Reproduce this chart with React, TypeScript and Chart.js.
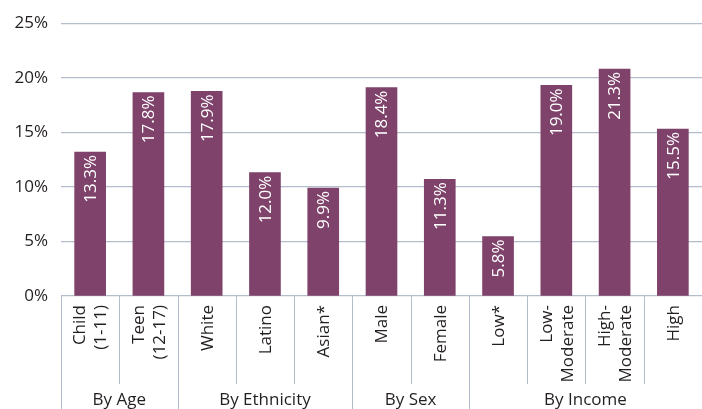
import React, { useEffect, useRef } from "react";
import { Chart, registerables } from "chart.js";

Chart.register(...registerables);

const categories: string[][] = [
  ["Child", "(1-11)"],
  ["Teen", "(12-17)"],
  ["White"],
  ["Latino"],
  ["Asian*"],
  ["Male"],
  ["Female"],
  ["Low*"],
  ["Low-", "Moderate"],
  ["High-", "Moderate"],
  ["High"],
];
const barValues = [13.2, 18.65, 18.75, 11.3, 9.9, 19.1, 10.7, 5.45, 19.3, 20.8, 15.3];
const valueLabels = ["13.3%", "17.8%", "17.9%", "12.0%", "9.9%", "18.4%", "11.3%", "5.8%", "19.0%", "21.3%", "15.5%"];
const groupLabels = ["By Age", "By Ethnicity", "By Sex", "By Income"];
const groupSizes = [2, 3, 2, 4];
const yTicks = [0, 5, 10, 15, 20, 25];

const FONT = "'Open Sans', 'Noto Sans', sans-serif";
const LINE = "#b4bdcc";
const TEXT = "#231f20";

const overlayPlugin = {
  id: "overlay",
  afterDatasetsDraw(chart: any) {
    const ctx = chart.ctx;
    const meta = chart.getDatasetMeta(0);
    const area = chart.chartArea;
    const x = chart.scales.x;
    ctx.save();
    // value labels
    ctx.fillStyle = "#ffffff";
    ctx.font = `17px ${FONT}`;
    ctx.textAlign = "right";
    ctx.textBaseline = "middle";
    meta.data.forEach((bar: any, i: number) => {
      ctx.save();
      ctx.translate(bar.x, bar.y + 3);
      ctx.rotate(-Math.PI / 2);
      ctx.fillText(valueLabels[i], 0, 1);
      ctx.restore();
    });
    // category labels
    ctx.fillStyle = TEXT;
    categories.forEach((lines, i) => {
      const cx = x.getPixelForValue(i);
      const lh = 21;
      const start = cx - ((lines.length - 1) * lh) / 2;
      lines.forEach((ln, j) => {
        ctx.save();
        ctx.translate(start + j * lh, area.bottom + 9);
        ctx.rotate(-Math.PI / 2);
        ctx.fillText(ln, 0, 1);
        ctx.restore();
      });
    });
    // table lines
    ctx.strokeStyle = LINE;
    ctx.lineWidth = 1;
    const boundaries: number[] = [];
    const n = categories.length;
    const step = n > 1 ? x.getPixelForValue(1) - x.getPixelForValue(0) : 0;
    for (let i = 0; i <= n; i++) {
      boundaries.push(x.getPixelForValue(0) - step / 2 + i * step);
    }
    const groupEdges = new Set<number>();
    let acc = 0;
    groupEdges.add(0);
    groupSizes.forEach((s) => {
      acc += s;
      groupEdges.add(acc);
    });
    boundaries.forEach((bx, i) => {
      if (i === n) return;
      const px = Math.round(bx) + 0.5;
      ctx.beginPath();
      ctx.moveTo(px, area.bottom);
      ctx.lineTo(px, groupEdges.has(i) ? chart.height : area.bottom + 88);
      ctx.stroke();
    });
    // group labels
    ctx.textAlign = "center";
    ctx.textBaseline = "alphabetic";
    let gi = 0;
    groupLabels.forEach((g, k) => {
      const left = boundaries[gi];
      const right = Math.min(boundaries[gi + groupSizes[k]], chart.width);
      ctx.fillText(g, (left + right) / 2, 405);
      gi += groupSizes[k];
    });
    ctx.restore();
  },
};

export default function App() {
  const ref = useRef<HTMLCanvasElement | null>(null);
  useEffect(() => {
    if (!ref.current) return;
    const chart = new Chart(ref.current, {
      type: "bar",
      data: {
        labels: categories.map((c) => c.join(" ")),
        datasets: [
          {
            data: barValues,
            backgroundColor: "#7f426b",
            barThickness: 31,
          },
        ],
      },
      options: {
        animation: false,
        responsive: false,
        maintainAspectRatio: false,
        layout: { padding: { top: 18, bottom: 113, left: 0, right: 0 } },
        plugins: { legend: { display: false }, tooltip: { enabled: false } },
        scales: {
          x: { display: false },
          y: {
            min: 0,
            max: 25,
            afterBuildTicks: (s: any) => {
              s.ticks = yTicks.map((v) => ({ value: v }));
            },
            afterFit: (s: any) => {
              s.width = 61;
            },
            border: { display: false },
            grid: { color: LINE, lineWidth: 1.3, drawTicks: false },
            ticks: {
              padding: 13,
              color: TEXT,
              font: { family: FONT, size: 17 },
              callback: (v: any) => `${v}%`,
            },
          },
        },
      },
      plugins: [overlayPlugin],
    });
    return () => chart.destroy();
  }, []);
  return (
    <div style={{ position: "fixed", left: 0, top: 0, width: 702, height: 409, background: "#fff" }}>
      <canvas ref={ref} width={702} height={409} />
    </div>
  );
}
